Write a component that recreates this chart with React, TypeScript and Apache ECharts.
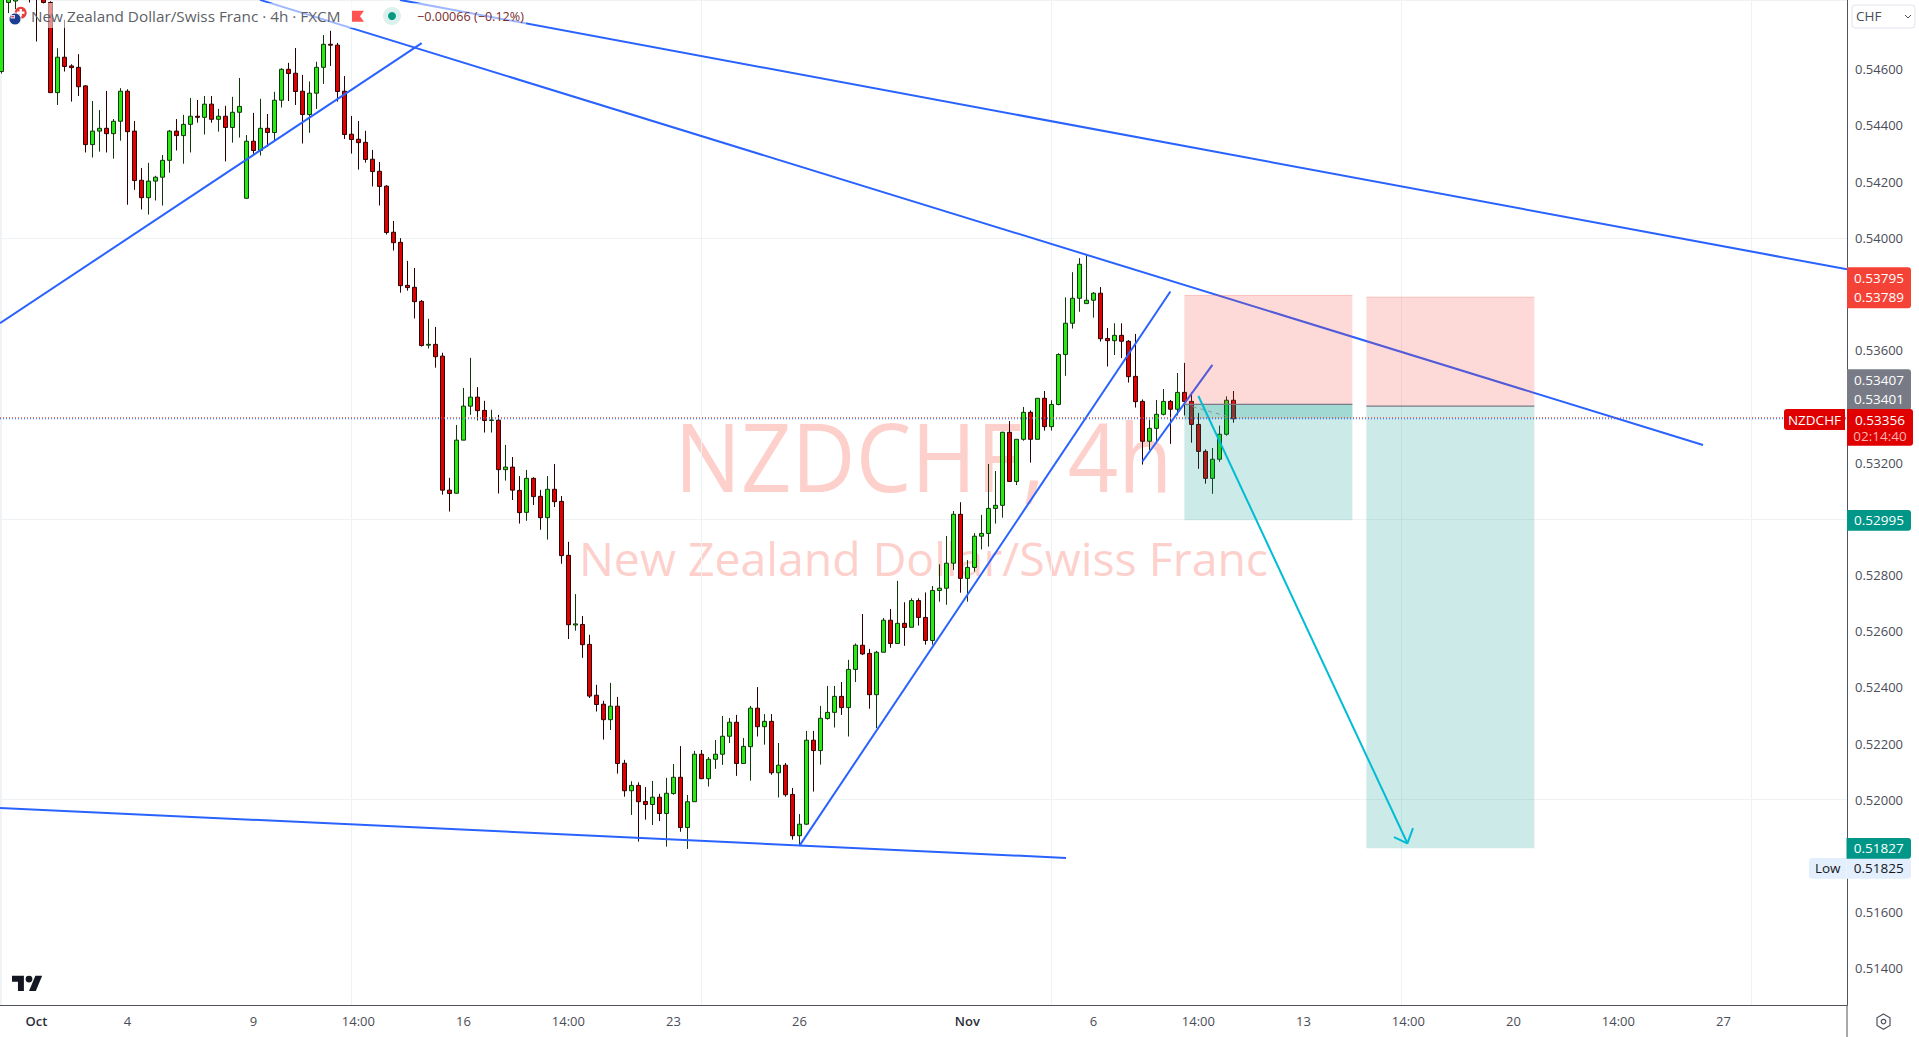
import React, { useEffect, useRef } from "react";
import * as echarts from "echarts";

// All prices below are in 1e-5 CHF points (54592 = 0.54592)
const opens = [
54592,54838,54843,54900,54890,54905,54851,54838,54517,54643,
54612,54607,54541,54332,54380,54390,54371,54415,54522,54380,
54205,54143,54202,54216,54276,54380,54364,54404,54433,54429,
54476,54422,54433,54393,54447,54141,54344,54311,54390,54375,
54490,54600,54586,54522,54439,54515,54607,54689,54686,54522,
54369,54351,54340,54280,54237,54184,54020,53984,53831,53824,
53774,53618,53621,53579,53102,53091,53280,53401,53433,53386,
53350,53351,53175,53184,53101,53023,53144,53080,53004,53105,
53062,52870,52622,52624,52553,52372,52340,52285,52333,52130,
52032,52051,51994,51983,52009,51951,52022,52080,51901,51993,
52162,52075,52144,52162,52226,52276,52129,52189,52326,52260,
52279,52096,52123,52019,51872,51913,52212,52175,52289,52311,
52368,52328,52464,52550,52521,52374,52525,52639,52556,52628,
52614,52709,52649,52567,52745,52753,52842,53016,52788,52827,
52938,52948,53037,53048,53308,53133,53283,53379,53283,53429,
53328,53407,53585,53696,53785,53766,53778,53803,53642,53634,
53653,53632,53507,53418,53276,53322,53372,53418,53390,53450,
53418,53336,53240,53144,53212,53301,53422];
const closes = [
54865,54849,54853,54870,54860,54862,54838,54517,54643,54610,
54606,54538,54332,54380,54390,54371,54415,54522,54378,54204,
54143,54202,54216,54276,54380,54364,54404,54433,54429,54476,
54422,54433,54393,54447,54468,54344,54311,54390,54375,54490,
54600,54585,54521,54439,54515,54607,54689,54686,54521,54368,
54350,54339,54279,54236,54183,54019,53983,53830,53823,53773,
53617,53621,53577,53102,53090,53280,53401,53433,53385,53350,
53352,53175,53184,53102,53022,53144,53079,53004,53105,53061,
52869,52623,52626,52552,52369,52339,52285,52333,52129,52032,
52051,51993,51983,52009,51951,52023,52080,51901,51993,52162,
52075,52144,52162,52226,52276,52129,52190,52326,52260,52279,
52096,52123,52018,51872,51913,52212,52175,52290,52311,52368,
52328,52464,52550,52519,52374,52525,52639,52556,52628,52613,
52709,52649,52567,52745,52753,52842,53016,52788,52827,52938,
52948,53037,53048,53308,53133,53283,53379,53283,53429,53328,
53407,53585,53696,53785,53906,53778,53803,53641,53634,53653,
53632,53506,53417,53276,53322,53372,53418,53390,53450,53418,
53336,53240,53144,53212,53301,53422,53356];
const lows = [
54585,54800,54814,54855,54838,54699,54833,54517,54473,54592,
54485,54505,54304,54286,54307,54304,54282,54346,54118,54171,
54101,54083,54133,54115,54232,54311,54264,54304,54410,54368,
54410,54378,54272,54339,54357,54140,54299,54293,54325,54343,
54464,54487,54473,54336,54374,54459,54548,54612,54485,54352,
54300,54243,54268,54183,54115,54012,53955,53805,53812,53713,
53613,53606,53538,53086,53026,53090,53280,53370,53350,53307,
53307,53090,53136,53067,52983,52993,53049,52961,52926,53042,
52840,52572,52602,52505,52362,52314,52214,52248,52093,52011,
51946,51851,51929,51910,51924,51833,52018,51886,51825,51993,
52075,52047,52110,52124,52202,52085,52129,52068,52225,52196,
52089,52008,52011,51858,51837,51911,52029,52125,52285,52257,
52302,52225,52419,52515,52324,52255,52525,52541,52556,52548,
52614,52620,52552,52552,52705,52694,52818,52737,52705,52812,
52891,52901,52983,53004,53133,53120,53278,53200,53283,53314,
53314,53404,53509,53677,53737,53765,53716,53631,53542,53583,
53572,53485,53396,53193,53245,53269,53368,53267,53368,53368,
53271,53178,53125,53089,53203,53296,53342];
const highs = [
54883,54871,54871,54920,54910,54920,54871,54842,54675,54776,
54618,54654,54544,54487,54455,54523,54423,54533,54529,54416,
54249,54267,54221,54295,54384,54423,54438,54498,54491,54505,
54505,54459,54470,54502,54569,54366,54445,54495,54441,54520,
54604,54623,54676,54580,54557,54627,54722,54737,54694,54576,
54434,54416,54381,54313,54270,54188,54060,53999,53918,53893,
53779,53712,53683,53591,53146,53334,53466,53573,53469,53420,
53388,53370,53263,53220,53152,53174,53148,53103,53152,53195,
53081,52918,52732,52654,52587,52409,52352,52416,52366,52142,
52066,52062,52045,52067,52021,52078,52127,52191,52017,52174,
52177,52152,52213,52298,52291,52302,52220,52334,52401,52305,
52305,52202,52131,52042,51949,52245,52245,52334,52405,52405,
52419,52498,52556,52661,52537,52530,52647,52679,52779,52703,
52717,52717,52738,52761,52838,52939,53028,53059,52853,52949,
53014,53195,53170,53310,53348,53283,53398,53386,53429,53455,
53422,53589,53788,53878,53928,53939,53807,53825,53679,53696,
53696,53636,53658,53425,53353,53423,53462,53423,53519,53555,
53450,53377,53247,53252,53332,53436,53455];

// Time axis: bar index -> label
const xTickBars = [5, 18, 36, 51, 66, 81, 96, 114, 138, 156, 171, 186, 201, 216, 231, 246];
const xTickLabels = ["Oct", "4", "9", "14:00", "16", "14:00", "23", "26", "Nov", "6", "14:00", "13", "14:00", "20", "14:00", "27"];
const priceGridTicks = [0.514, 0.516, 0.518, 0.52, 0.522, 0.524, 0.526, 0.528, 0.53, 0.532, 0.534, 0.536, 0.538, 0.54, 0.542, 0.544, 0.546, 0.548];
const priceLabelTicks = [0.514, 0.516, 0.52, 0.522, 0.524, 0.526, 0.528, 0.532, 0.536, 0.54, 0.542, 0.544, 0.546];

// Drawings: [bar, price points]
const trendA = [[-0.2, 53696], [60.04, 54693]];
const trendB = [[36.94, 54847], [243.09, 53263]];
const trendC = [[56.94, 54847], [263.66, 53888]];
const trendD = [[-0.2, 51971], [152.09, 51793]];
const trendE = [[114, 51836], [167, 53809]];
const trendF = [[163, 53204], [173, 53548]];
const arrowShaft = [[171, 53437], [200.86, 51845]];
const arrowHead = [[198.94, 51867], [200.86, 51845], [201.66, 51899]];
const tradePath = [[170.2, 53399], [175.5, 53362]];
const bidLine = 53360;
const lastLine = 53356;
// from bar, to bar, stop, entry, target, active price
const positionBoxes = [
  [169, 193, 53795, 53407, 52995, 53356],
  [195, 219, 53789, 53401, 51827, 53401],
];

const X_MIN = -0.2;
const X_MAX = 263.66;
const Y_MIN = 0.512694;
const Y_MAX = 0.548467;
const FONT = "'Open Sans', Roboto, sans-serif";
const BLUE = "#2962ff";
const CYAN = "#00bcd4";
const p = (n: number) => n / 100000;
const toLine = (pts: number[][]) => pts.map(([b, v]) => [b, p(v)]);

echarts.graphic.registerShape(
  "tvLogo",
  echarts.graphic.extendPath(
    "M14 22H7V11H0V4h14v18zM28 22h-8l7.5-18h8L28 22zM16 8a4 4 0 1 0 8 0a4 4 0 1 0-8 0z",
    {}
  )
);

function lineSeries(name: string, pts: number[][], color: string, width: number, z: number, type: any = "solid") {
  return {
    name,
    type: "line",
    data: toLine(pts),
    showSymbol: false,
    symbol: "none",
    silent: true,
    z,
    lineStyle: { color, width, type },
  };
}

function tag(x: number, y: number, w: number, h: number, fill: string, r: any, lines: any[]) {
  return [
    { type: "rect", z: 100, shape: { x, y, width: w, height: h, r }, style: { fill } },
    ...lines.map((l) => ({
      type: "text",
      z: 101,
      x: x + (l.dx ?? w / 2),
      y: y + l.dy,
      style: {
        text: l.text,
        fill: l.fill ?? "#ffffff",
        font: `${l.weight ?? 400} 13.5px ${FONT}`,
        align: "center",
        verticalAlign: "middle",
      },
    })),
  ];
}

function buildGraphic() {
  const wm = "rgba(252, 176, 170, 0.6)";
  return [
    // watermark
    { type: "text", z: 0, x: 923.5, y: 455, scaleX: 0.92, style: { text: "NZDCHF, 4h", fill: wm, font: `400 96px 'Open Sans'`, align: "center", verticalAlign: "middle" } },
    { type: "text", z: 0, x: 923.5, y: 558, style: { text: "New Zealand Dollar/Swiss Franc", fill: wm, font: `400 46.4px 'Open Sans'`, align: "center", verticalAlign: "middle" } },
    // header veil
    { type: "rect", z: 90, shape: { x: 40, y: 3, width: 486, height: 25 }, style: { fill: "rgba(255,255,255,0.55)" } },
    // flags
    { type: "circle", z: 95, shape: { cx: 20.7, cy: 12.7, r: 6 }, style: { fill: "#e8413f" } },
    { type: "rect", z: 95, shape: { x: 19.5, y: 9, width: 2.4, height: 7.4 }, style: { fill: "#fff" } },
    { type: "rect", z: 95, shape: { x: 17, y: 11.5, width: 7.4, height: 2.4 }, style: { fill: "#fff" } },
    { type: "circle", z: 96, shape: { cx: 15, cy: 19, r: 6 }, style: { fill: "#1c3f94", stroke: "#ffffff", lineWidth: 1 } },
    { type: "rect", z: 96, shape: { x: 10.5, y: 15, width: 4.5, height: 3.5 }, style: { fill: "#d9d9e6" } },
    { type: "rect", z: 96, shape: { x: 11.5, y: 16, width: 2.5, height: 1.2 }, style: { fill: "#d8344a" } },
    // title
    { type: "text", z: 100, x: 31, y: 16, style: { text: "New Zealand Dollar/Swiss Franc · 4h · FXCM", fill: "#5d5f66", font: `400 15.3px ${FONT}`, align: "left", verticalAlign: "middle" } },
    { type: "polygon", z: 100, shape: { points: [[352, 10.7], [364, 10.7], [360, 16.2], [364, 21.7], [352, 21.7]] }, style: { fill: "#ff5252" } },
    { type: "circle", z: 100, shape: { cx: 392, cy: 16, r: 9 }, style: { fill: "rgba(8,153,129,0.14)" } },
    { type: "circle", z: 101, shape: { cx: 392, cy: 16, r: 4 }, style: { fill: "#089981" } },
    { type: "text", z: 100, x: 417, y: 16.5, style: { text: "−0.00066 (−0.12%)", fill: "#7a2c2c", font: `400 12.6px ${FONT}`, align: "left", verticalAlign: "middle" } },
    // currency button
    { type: "rect", z: 100, shape: { x: 1852, y: 5, width: 63, height: 23, r: 3 }, style: { fill: "#fff", stroke: "#e0e3eb", lineWidth: 1 } },
    { type: "text", z: 101, x: 1856, y: 16, style: { text: "CHF", fill: "#4a4d57", font: `400 13.5px ${FONT}`, align: "left", verticalAlign: "middle" } },
    { type: "polyline", z: 101, shape: { points: [[1905, 15], [1908, 18], [1911, 15]] }, style: { fill: "none", stroke: "#4a4d57", lineWidth: 1 } },
    // price tags
    ...tag(1847, 267.3, 64, 41, "#f44336", [0, 3, 3, 0], [{ text: "0.53795", dy: 10.5 }, { text: "0.53789", dy: 30 }]),
    ...tag(1847, 369.3, 64, 41, "#787b86", [0, 3, 3, 0], [{ text: "0.53407", dy: 10.5 }, { text: "0.53401", dy: 30 }]),
    ...tag(1847, 409, 66, 36.7, "#e00000", [0, 3, 3, 0], [{ text: "0.53356", dy: 10.5 }, { text: "02:14:40", fill: "#ffb3b3", dy: 26.5 }]),
    ...tag(1784, 409, 61, 21, "#e00000", [3, 0, 0, 3], [{ text: "NZDCHF", dy: 10.5, weight: 500 }]),
    ...tag(1847, 510, 64, 20.7, "#009688", [0, 3, 3, 0], [{ text: "0.52995", dy: 10 }]),
    ...tag(1846.5, 858, 64.5, 20.7, "#e3effd", [0, 3, 3, 0], [{ text: "0.51825", dy: 10, fill: "#131722" }]),
    ...tag(1809, 858, 37.5, 20.7, "#e3effd", [3, 0, 0, 3], [{ text: "Low", dy: 10, fill: "#131722" }]),
    ...tag(1846.5, 838, 64.5, 20.7, "#009688", [0, 3, 3, 0], [{ text: "0.51827", dy: 10 }]),
    // scale frame below the chart
    { type: "line", z: 100, shape: { x1: 1847, y1: 1005, x2: 1847, y2: 1037 }, style: { stroke: "#50535e", lineWidth: 1 } },
    // settings icon
    { type: "polygon", z: 100, shape: { points: [[1883.5, 1014], [1890, 1017.8], [1890, 1025.4], [1883.5, 1029.2], [1877, 1025.4], [1877, 1017.8]] }, style: { fill: "none", stroke: "#50535e", lineWidth: 1.2 } },
    { type: "circle", z: 100, shape: { cx: 1883.5, cy: 1021.6, r: 2.3 }, style: { fill: "none", stroke: "#50535e", lineWidth: 1.2 } },
    // logo
    { type: "tvLogo", z: 100, x: 12, y: 972.3, scaleX: 0.85, scaleY: 0.85, style: { fill: "#131722" } },
  ];
}

function boxRender(_params: any, api: any) {
  const x0 = api.coord([api.value(0), api.value(2)]);
  const x1 = api.coord([api.value(1), api.value(3)]);
  const bottom = api.coord([api.value(1), api.value(4)]);
  const active = api.coord([api.value(1), api.value(5)]);
  const left = x0[0];
  const w = x1[0] - x0[0];
  const children: any[] = [
    { type: "rect", shape: { x: left, y: x0[1], width: w, height: x1[1] - x0[1] }, style: { fill: "rgba(244,67,54,0.2)" } },
    { type: "rect", shape: { x: left, y: x1[1], width: w, height: bottom[1] - x1[1] }, style: { fill: "rgba(0,150,136,0.2)" } },
    { type: "line", shape: { x1: left, y1: x0[1], x2: left + w, y2: x0[1] }, style: { stroke: "rgba(244,67,54,0.25)", lineWidth: 1 } },
    { type: "rect", shape: { x: left, y: x1[1], width: w, height: active[1] - x1[1] }, style: { fill: "rgba(0,150,136,0.2)" } },
    { type: "line", shape: { x1: left, y1: x1[1], x2: left + w, y2: x1[1] }, style: { stroke: "#787b86", lineWidth: 1.2 } },
  ];
  return { type: "group", children };
}

export default function App() {
  const ref = useRef<HTMLDivElement>(null);
  useEffect(() => {
    const chart = echarts.init(ref.current!, undefined, { renderer: "svg" });
    const candles = opens.map((o, i) => [i, p(o), p(closes[i]), p(lows[i]), p(highs[i])]);
    chart.setOption({
      animation: false,
      backgroundColor: "#ffffff",
      textStyle: { fontFamily: FONT },
      grid: { left: 0, top: 0, width: 1847, height: 1005, containLabel: false },
      xAxis: {
        type: "value",
        min: X_MIN,
        max: X_MAX,
        axisLine: { show: true, onZero: false, lineStyle: { color: "#50535e", width: 1 } },
        axisTick: { show: false },
        splitLine: { show: true, customValues: xTickBars, lineStyle: { color: "#f0f3f5", width: 1 } },
        axisLabel: {
          customValues: xTickBars,
          margin: 9,
          showMinLabel: true,
          showMaxLabel: true,
          hideOverlap: false,
          formatter: (v: number) => {
            const t = xTickLabels[xTickBars.indexOf(Math.round(v))] ?? "";
            return t === "Oct" || t === "Nov" ? `{b|${t}}` : t;
          },
          color: "#4a4d57",
          fontFamily: FONT,
          fontSize: 13,
          rich: { b: { fontWeight: 600, color: "#2a2e39", fontSize: 13, fontFamily: FONT } },
        },
      },
      yAxis: {
        type: "value",
        position: "right",
        min: Y_MIN,
        max: Y_MAX,
        axisLine: { show: true, onZero: false, lineStyle: { color: "#50535e", width: 1 } },
        axisTick: { show: false },
        splitLine: { show: true, customValues: priceGridTicks, lineStyle: { color: "#f0f3f5", width: 1 } },
        axisLabel: {
          customValues: priceLabelTicks,
          margin: 8,
          padding: [0, 0, 3, 0],
          showMinLabel: true,
          showMaxLabel: true,
          formatter: (v: number) => v.toFixed(5),
          color: "#4a4d57",
          fontFamily: FONT,
          fontSize: 13,
        },
      },
      series: [
        {
          name: "NZDCHF",
          type: "candlestick",
          data: candles,
          barWidth: 4,
          z: 2,
          silent: true,
          itemStyle: {
            color: "#2ae814",
            color0: "#e00000",
            borderColor: "#10380a",
            borderColor0: "#2c0000",
            borderColorDoji: "#1c4a10",
            borderWidth: 1,
          },
        },
        lineSeries("Trend A", trendA, BLUE, 2, 3),
        lineSeries("Trend B", trendB, BLUE, 2, 3),
        lineSeries("Trend C", trendC, BLUE, 2, 3),
        lineSeries("Trend D", trendD, BLUE, 2, 3),
        lineSeries("Trend E", trendE, BLUE, 2, 3),
        lineSeries("Trend F", trendF, BLUE, 2, 3),
        {
          name: "Positions",
          type: "custom",
          silent: true,
          z: 4,
          data: positionBoxes.map((b) => [b[0], b[1], p(b[2]), p(b[3]), p(b[4]), p(b[5])]),
          encode: { x: [0, 1], y: [2, 3, 4, 5] },
          renderItem: boxRender,
        },
        lineSeries("Trade path", tradePath, "#8f929c", 1, 5, [4, 4]),
        lineSeries("Projection", arrowShaft, CYAN, 2, 6),
        lineSeries("Projection head", arrowHead, CYAN, 2, 6),
        lineSeries("Bid", [[X_MIN, bidLine], [X_MAX, bidLine]], "#f0524a", 1, 7, [1, 2]),
        lineSeries("Last", [[X_MIN, lastLine], [X_MAX, lastLine]], BLUE, 1, 7, [1, 2]),
      ],
      graphic: buildGraphic(),
    });
    return () => chart.dispose();
  }, []);
  return (
    <div
      ref={ref}
      style={{ position: "fixed", left: 0, top: 0, width: 1919, height: 1037, background: "#fff" }}
    />
  );
}
